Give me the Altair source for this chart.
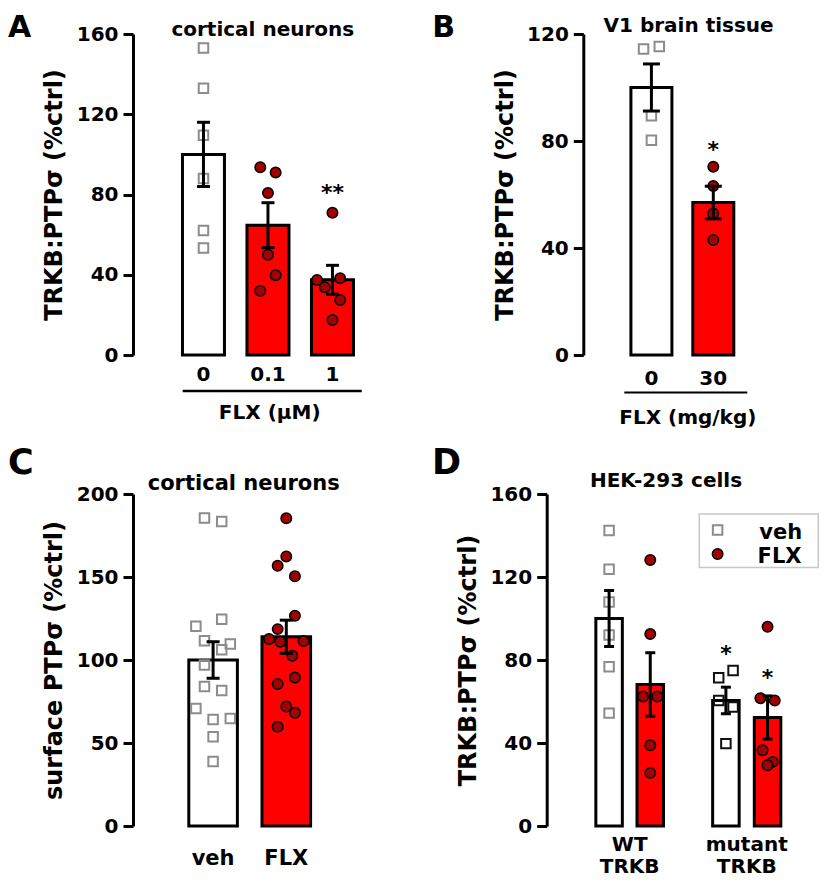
import altair as alt
import pandas as pd

FONT = "DejaVu Sans"
RED = "#ff0000"
DOT = "#a30000"
GRAY = "#8c8c8c"
DARK = "#111111"

# ---------------- Panel A : cortical neurons, FLX (uM) ----------------
A_labels = ["0", "0.1", "1"]
A_pos = [0, 1, 2]
A_means = [100, 64.7, 37.5]
A_sems = [16, 11.2, 7.2]
A_ctrl = [153, 133, 109.5, 88, 62, 53.3]
A_ctrl_slot = [0, 0, 0, 0, 0, 0]
A_low = [93.6, 91, 80.7, 50, 39.8, 32]
A_low_slot = [-1, 1, 0, 0, 1, -1]
A_high = [70.9, 37.4, 38.3, 33.8, 27.4, 17.4]
A_high_slot = [0, -2, 1, -1, 1, 0]
A_star = ["**"]
A_star_val = [81.8]

# ---------------- Panel B : V1 brain tissue, FLX (mg/kg) ----------------
B_labels = ["0", "30"]
B_pos = [0, 1]
B_means = [100, 57]
B_sems = [8.8, 6.1]
B_veh = [114.4, 115.3, 89.4, 80.3]
B_veh_slot = [-1, 1, 0, 0]
B_flx = [70.4, 63.2, 52.9, 43]
B_flx_slot = [0, 0, 0, 0]
B_star = ["*"]
B_star_val = [77.2]

# ---------------- Panel C : surface PTPsigma ----------------
C_labels = ["veh", "FLX"]
C_pos = [0, 1]
C_means = [100, 114]
C_sems = [11, 10]
C_veh = [185.6, 183.4, 124.6, 120.4, 111.6, 109.6, 106.2, 97, 84, 81.6, 70.8, 64.2, 64.8, 53.8, 38.8]
C_veh_slot = [-1, 1, 1, -2, -1, 2, 1, -1, -1, 1, -2, 0, 2, 0, 0]
C_flx = [185.4, 162.4, 156.8, 150.4, 126.6, 118.6, 112.6, 111, 111.4, 102.6, 89.4, 85.6, 72, 68.2, 59.8]
C_flx_slot = [0, 0, -1, 1, 1, -1, -2, -0.7, 2, 0.7, 1, -1, 0, 1, -1]

# ---------------- Panel D : HEK-293 cells ----------------
D_groups = ["WT\nTRKB", "mutant\nTRKB"]
D_group_pos = [0.5, 3.343]
D_pos = [0, 1, 2.837, 3.849]          # WT veh, WT FLX, mutant veh, mutant FLX
D_means = [100, 68.2, 60.5, 52.3]
D_sems = [13.5, 15.3, 6.4, 10.4]
D_wt_veh = [142.4, 123.7, 108, 92, 76.8, 54.4]
D_wt_veh_slot = [0, 0, 0, 0, 0, 0]
D_wt_flx = [128.2, 92.5, 62.4, 62.4, 38.9, 25.6]
D_wt_flx_slot = [0, 0, -1, 1, 0, 0]
D_mut_veh = [71.4, 74.9, 60.5, 57.3, 39.7]
D_mut_veh_slot = [-1, 1, -1, 1, 0]
D_mut_flx = [96, 61.6, 60.5, 36.5, 30.9, 29.3]
D_mut_flx_slot = [0, -1, 1, -0.7, 0.7, 0]
D_star = ["*", "*"]
D_star_pos = [2.837, 3.849]
D_star_val = [83.7, 72.5]

YTITLE = "TRKB:PTPσ (%ctrl)"


def bar_df(pos, means, sems, fills):
    return pd.DataFrame({
        "pos": pos, "mean": means,
        "lo": [m - s for m, s in zip(means, sems)],
        "hi": [m + s for m, s in zip(means, sems)],
        "fill": fills,
    })


def pts_df(groups):
    rows = []
    for pos, vals, slots, k, stroke in groups:
        for v, s in zip(vals, slots):
            rows.append({"xp": pos + s * k, "value": v, "stroke": stroke})
    return pd.DataFrame(rows)


ONE = pd.DataFrame({"t": [""]})


def txt(s, x, y, size=20, align="center", baseline="alphabetic"):
    return alt.Chart(pd.DataFrame({"t": [s]})).mark_text(
        font=FONT, fontWeight="bold", fontSize=size, align=align,
        baseline=baseline, color="black"
    ).encode(x=alt.value(x), y=alt.value(y), text="t:N")


def hline(x1, x2, y, w=2.5):
    return alt.Chart(ONE).mark_rule(color="black", strokeWidth=w).encode(
        x=alt.value(x1), x2=alt.value(x2), y=alt.value(y))


def panel(bars, squares, circles, xdom, ydom, yticks, ytitle, width, height,
          bar_size, cap, labels, label_y, label_size, stars, extras,
          line_height=None, axis_offset=0):
    xs = alt.Scale(domain=xdom, nice=False, zero=False)
    ys = alt.Scale(domain=ydom, nice=False, zero=True)
    yax = alt.Axis(values=yticks, title=ytitle, offset=axis_offset)

    def X(f):
        return alt.X(f, type="quantitative", scale=xs, axis=None)

    def Y(f):
        return alt.Y(f, type="quantitative", scale=ys, axis=yax)

    layers = [
        alt.Chart(bars).mark_bar(size=bar_size, stroke="black", strokeWidth=3).encode(
            x=X("pos"), y=Y("mean"), fill=alt.Fill("fill:N", scale=None)),
        alt.Chart(squares).mark_point(shape="square", filled=False, size=90,
                                      strokeWidth=2, opacity=1).encode(
            x=X("xp"), y=Y("value"), stroke=alt.Stroke("stroke:N", scale=None)),
        alt.Chart(circles).mark_point(shape="circle", filled=True, size=110, fill=DOT,
                                      stroke="black", strokeWidth=1.5, opacity=1).encode(
            x=X("xp"), y=Y("value")),
        alt.Chart(bars).mark_rule(strokeWidth=3, color="black").encode(
            x=X("pos"), y=Y("lo"), y2="hi"),
    ]
    caps = pd.concat([
        pd.DataFrame({"pos": bars["pos"], "v": bars["lo"]}),
        pd.DataFrame({"pos": bars["pos"], "v": bars["hi"]}),
    ])
    layers.append(alt.Chart(caps).mark_tick(orient="horizontal", size=cap, thickness=3,
                                            color="black", opacity=1).encode(
        x=X("pos"), y=Y("v")))
    tkw = dict(font=FONT, fontWeight="bold", fontSize=label_size, color="black",
               baseline="alphabetic", align="center")
    if line_height:
        tkw.update(lineBreak="\n", lineHeight=line_height)
    layers.append(alt.Chart(labels).mark_text(**tkw).encode(
        x=X("pos"), y=alt.value(label_y), text="label:N"))
    if stars is not None:
        layers.append(alt.Chart(stars).mark_text(
            font=FONT, fontWeight="bold", fontSize=22, color="black",
            baseline="alphabetic", align="center", dy=9).encode(
            x=X("pos"), y=Y("v"), text="t:N"))
    layers.extend(extras)
    return alt.layer(*layers).properties(width=width, height=height)


H1 = 321     # top row plot height
H2 = 332     # bottom row plot height

# ---- Panel A ----
kA = 8 / 67
A = panel(
    bar_df(A_pos, A_means, A_sems, ["white", RED, RED]),
    pts_df([(0, A_ctrl, A_ctrl_slot, kA, GRAY)]),
    pts_df([(1, A_low, A_low_slot, kA, "black"), (2, A_high, A_high_slot, kA, "black")]),
    [-1.015, 2.985], [0, 160], [0, 40, 80, 120, 160], YTITLE, 268, H1,
    42, 13,
    pd.DataFrame({"pos": A_pos, "label": A_labels}), H1 + 26, 20,
    pd.DataFrame({"pos": [2], "v": A_star_val, "t": A_star}),
    [txt("A", -125, 2.7, 30, "left"),
     txt("cortical neurons", 129.8, 1.7, 20),
     hline(49.7, 228.7, H1 + 36),
     txt("FLX (μM)", 136.7, H1 + 64, 20)],
)

# ---- Panel B ----
kB = 8.3 / 65.2
B = panel(
    bar_df(B_pos, B_means, B_sems, ["white", RED]),
    pts_df([(0, B_veh, B_veh_slot, kB, GRAY)]),
    pts_df([(1, B_flx, B_flx_slot, kB, "black")]),
    [-1.02, 1.994], [0, 120], [0, 40, 80, 120], YTITLE, 196.5, H1,
    41, 17,
    pd.DataFrame({"pos": B_pos, "label": B_labels}), H1 + 29.7, 20,
    pd.DataFrame({"pos": [1], "v": B_star_val, "t": B_star}),
    [txt("B", -151, 2.7, 30, "left"),
     txt("V1 brain tissue", 105.3, -1.6, 20),
     hline(41, 164, H1 + 37.4, 2),
     txt("FLX (mg/kg)", 104.5, H1 + 69.2, 20)],
)

# ---- Panel C ----
kC = 9 / 76.5
C = panel(
    bar_df(C_pos, C_means, C_sems, ["white", RED]),
    pts_df([(0, C_veh, C_veh_slot, kC, GRAY)]),
    pts_df([(1, C_flx, C_flx_slot, kC, "black")]),
    [-1.026, 2.003], [0, 200], [0, 50, 100, 150, 200], "surface PTPσ (%ctrl)",
    231.7, H2,
    48.6, 13,
    pd.DataFrame({"pos": C_pos, "label": C_labels}), H2 + 39, 21,
    None,
    [txt("C", -125, -20.5, 35, "left"),
     txt("cortical neurons", 110.7, -4, 21)],
)

# ---- Panel D ----
kD = 7.5 / 43
LX = 116   # legend box left, px from the D plot's left edge
D = panel(
    bar_df(D_pos, D_means, D_sems, ["white", RED, "white", RED]),
    pts_df([(D_pos[0], D_wt_veh, D_wt_veh_slot, kD, GRAY),
            (D_pos[2], D_mut_veh, D_mut_veh_slot, kD, DARK)]),
    pts_df([(D_pos[1], D_wt_flx, D_wt_flx_slot, kD, "black"),
            (D_pos[3], D_mut_flx, D_mut_flx_slot, kD, "black")]),
    [-0.505, 4.96], [0, 160], [0, 40, 80, 120, 160], YTITLE, 235, H2,
    26.5, 10,
    pd.DataFrame({"pos": D_group_pos, "label": D_groups}), H2 + 24.5, 20,
    pd.DataFrame({"pos": D_star_pos, "v": D_star_val, "t": D_star}),
    [txt("D", -151.3, -20.5, 35, "left"),
     txt("HEK-293 cells", 82.7, -7.3, 20),
     alt.Chart(ONE).mark_rect(fill="white", stroke="#c8c8c8", strokeWidth=1.5).encode(
         x=alt.value(LX), x2=alt.value(LX + 119), y=alt.value(20), y2=alt.value(73.4)),
     alt.Chart(ONE).mark_point(shape="square", filled=False, size=90, strokeWidth=2,
                               stroke=GRAY, opacity=1).encode(
         x=alt.value(LX + 18.3), y=alt.value(36)),
     alt.Chart(ONE).mark_point(shape="circle", filled=True, size=110, fill=DOT,
                               stroke="black", strokeWidth=1.5, opacity=1).encode(
         x=alt.value(LX + 18.3), y=alt.value(60)),
     txt("veh", LX + 60, 45, 21, "left"),
     txt("FLX", LX + 58.3, 69.4, 21, "left")],
    line_height=22,
    axis_offset=36.6,
)

chart = alt.concat(
    A, B, C, D, columns=2,
    spacing=alt.RowColnumber(row=139, column=182.3),
    align="none", bounds="flush",
).properties(
    padding={"top": 4, "left": 0, "right": 0, "bottom": 0}
).configure_view(stroke=None).configure_axis(
    grid=False, domainColor="black", domainWidth=3, tickColor="black",
    tickWidth=3, tickSize=10, labelFont=FONT, labelFontSize=20,
    labelFontWeight="bold", labelColor="black", labelPadding=5,
    titleFont=FONT, titleFontSize=24, titleFontWeight="bold",
    titleColor="black", titlePadding=9.5,
)

chart.save("out.html", embed_options={"renderer": "svg", "actions": False})
